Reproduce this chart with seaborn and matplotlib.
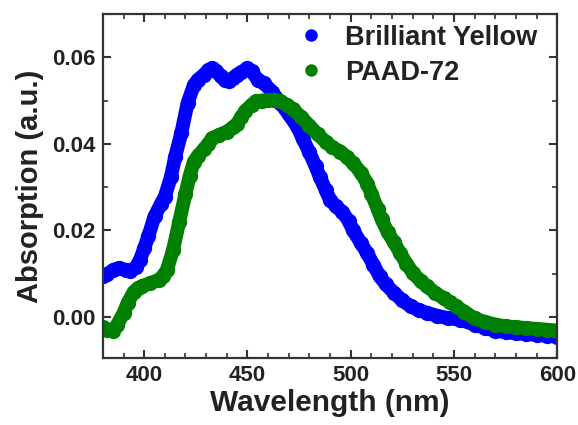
import numpy as np
import pandas as pd
import seaborn as sns
import matplotlib.pyplot as plt
from matplotlib.ticker import MultipleLocator

#### Data ####
wl_by = [380, 382, 385, 388, 391, 393, 396, 398, 400, 402, 405, 408, 410, 413, 415,
         418, 421, 424, 426, 429, 431, 433, 435, 437, 439, 441, 443, 445, 447, 450,
         452, 455, 458, 462, 466, 470, 474, 477, 480, 483, 485, 488, 490, 493, 496,
         499, 501, 505, 508, 511, 514, 517, 521, 525, 529, 533, 537, 542, 547, 553,
         560, 565, 570, 575, 580, 585, 590, 595, 600]
abs_by = [0.0095, 0.0098, 0.0108, 0.0113, 0.0108, 0.0105, 0.0115, 0.0132, 0.0158, 0.0186,
          0.0232, 0.0260, 0.0278, 0.0324, 0.0370, 0.0425, 0.0494, 0.0535, 0.0548, 0.0560,
          0.0570, 0.0575, 0.0568, 0.0556, 0.0548, 0.0544, 0.0552, 0.0560, 0.0565, 0.0575,
          0.0568, 0.0548, 0.0540, 0.0520, 0.0494, 0.0468, 0.0440, 0.0410, 0.0380, 0.0348,
          0.0324, 0.0292, 0.0270, 0.0255, 0.0242, 0.0222, 0.0201, 0.0170, 0.0147, 0.0120,
          0.0094, 0.0075, 0.0055, 0.0038, 0.0024, 0.0015, 0.0009, 0.0002, -0.0003, -0.0007,
          -0.0018, -0.0026, -0.0032, -0.0036, -0.0038, -0.0040, -0.0042, -0.0044, -0.0046]

wl_paad = [380, 382, 385, 387, 390, 392, 395, 397, 399, 403, 407, 409, 411, 414, 417,
           420, 422, 424, 426, 429, 431, 433, 436, 440, 443, 445, 447, 449, 452, 454,
           457, 460, 463, 466, 469, 472, 476, 480, 484, 488, 491, 495, 498, 501, 505,
           508, 510, 513, 515, 518, 521, 524, 527, 530, 534, 537, 541, 545, 548, 551,
           555, 560, 565, 570, 575, 580, 585, 590, 595, 600]
abs_paad = [-0.0024, -0.0030, -0.0032, -0.0018, 0.0009, 0.0032, 0.0058, 0.0066, 0.0071, 0.0078,
            0.0085, 0.0094, 0.0108, 0.0155, 0.0220, 0.0285, 0.0325, 0.0358, 0.0372, 0.0388,
            0.0400, 0.0413, 0.0420, 0.0428, 0.0438, 0.0446, 0.0462, 0.0476, 0.0490, 0.0498,
            0.0500, 0.0501, 0.0502, 0.0498, 0.0490, 0.0480, 0.0462, 0.0442, 0.0422, 0.0404,
            0.0392, 0.0382, 0.0370, 0.0356, 0.0333, 0.0308, 0.0285, 0.0250, 0.0225, 0.0195,
            0.0172, 0.0147, 0.0123, 0.0102, 0.0082, 0.0070, 0.0055, 0.0043, 0.0033, 0.0024,
            0.0012, -0.0004, -0.0012, -0.0018, -0.0022, -0.0024, -0.0026, -0.0028, -0.0030, -0.0032]

labels = ['Brilliant Yellow', 'PAAD-72']
colors = ['#0000ff', '#008000']

df = pd.concat([
    pd.DataFrame({'wl': wl_by, 'abs': abs_by, 'sample': labels[0]}),
    pd.DataFrame({'wl': wl_paad, 'abs': abs_paad, 'sample': labels[1]}),
])

#### Plot ####
sns.set_theme(style='ticks')
plt.rcParams['font.family'] = ['Liberation Sans', 'DejaVu Sans']
plt.rcParams['font.weight'] = 'bold'

fig = plt.figure(figsize=(5.78, 4.25), dpi=100)
ax = fig.add_axes([0.178, 0.158, 0.786, 0.809])

sns.lineplot(data=df, x='wl', y='abs', hue='sample', palette=colors, sort=False,
             linewidth=10, marker='o', markersize=11, markeredgewidth=0, ax=ax)

ax.set_xlim(380, 600)
ax.set_ylim(-0.0095, 0.070)
ax.xaxis.set_major_locator(MultipleLocator(50))
ax.xaxis.set_minor_locator(MultipleLocator(10))
ax.yaxis.set_major_locator(MultipleLocator(0.02))
ax.yaxis.set_minor_locator(MultipleLocator(0.01))
ax.yaxis.set_major_formatter(plt.FormatStrFormatter('%.2f'))

ax.tick_params(which='both', direction='in', top=True, right=True, color='#333333',
               labelsize=16, labelcolor='#222222', pad=5)
ax.tick_params(which='major', length=6, width=1.5)
ax.tick_params(which='minor', length=3.5, width=1.2)
for s in ax.spines.values():
    s.set_linewidth(1.6)
    s.set_color('#333333')
for lab in ax.get_xticklabels() + ax.get_yticklabels():
    lab.set_fontweight('bold')

ax.set_xlabel('Wavelength (nm)', fontsize=21.5, fontweight='bold', color='#222222', labelpad=2)
ax.set_ylabel('Absorption (a.u.)', fontsize=21, fontweight='bold', color='#222222', labelpad=6)

# legend with dots only
handles, _ = ax.get_legend_handles_labels()
for h in handles:
    h.set_linestyle('')
    h.set_markersize(9)
leg = ax.legend(handles, labels, loc='upper left', bbox_to_anchor=(0.405, 1.0),
                frameon=False, prop={'size': 19.5, 'weight': 'bold'},
                handletextpad=0.75, labelspacing=0.32, handlelength=1.0, borderaxespad=0)
for t in leg.get_texts():
    t.set_color('#222222')

fig.savefig('out.png', dpi=100)
